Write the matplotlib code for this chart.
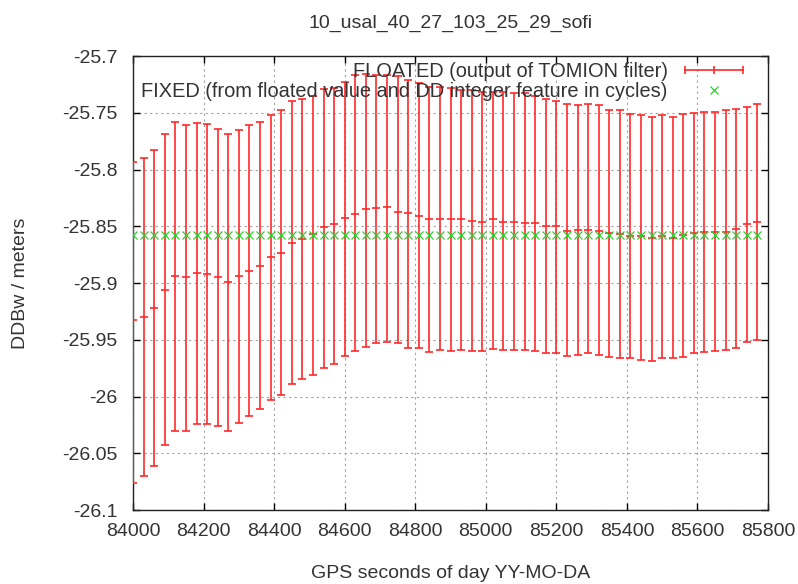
import matplotlib
matplotlib.use("Agg")
import matplotlib.pyplot as plt
from matplotlib.lines import Line2D
from matplotlib.legend_handler import HandlerBase

# GPS seconds (one sample every 30 s)
seconds = [84000 + 30 * i for i in range(60)]

# floated DDBw value and its error bar ends (meters)
floated = [-25.933, -25.930, -25.922, -25.906, -25.894, -25.895, -25.891, -25.892, -25.895, -25.899,
           -25.894, -25.889, -25.885, -25.877, -25.874, -25.865, -25.861, -25.857, -25.851, -25.848,
           -25.843, -25.839, -25.835, -25.834, -25.833, -25.837, -25.838, -25.841, -25.844, -25.844,
           -25.844, -25.844, -25.845, -25.846, -25.844, -25.846, -25.846, -25.847, -25.847, -25.850,
           -25.850, -25.854, -25.853, -25.853, -25.854, -25.856, -25.857, -25.859, -25.859, -25.860,
           -25.859, -25.860, -25.858, -25.856, -25.855, -25.855, -25.855, -25.852, -25.848, -25.846]
floated_hi = [-25.793, -25.790, -25.783, -25.769, -25.758, -25.761, -25.759, -25.760, -25.764, -25.769,
              -25.765, -25.761, -25.758, -25.752, -25.748, -25.740, -25.738, -25.735, -25.729, -25.728,
              -25.723, -25.717, -25.716, -25.717, -25.717, -25.718, -25.721, -25.724, -25.727, -25.727,
              -25.728, -25.730, -25.730, -25.732, -25.732, -25.732, -25.733, -25.733, -25.735, -25.738,
              -25.740, -25.742, -25.743, -25.742, -25.743, -25.748, -25.748, -25.751, -25.752, -25.754,
              -25.752, -25.754, -25.751, -25.750, -25.749, -25.749, -25.748, -25.747, -25.745, -25.742]
floated_lo = [-26.076, -26.070, -26.061, -26.043, -26.030, -26.030, -26.024, -26.024, -26.026, -26.030,
              -26.023, -26.017, -26.011, -26.003, -25.999, -25.989, -25.985, -25.981, -25.975, -25.971,
              -25.964, -25.960, -25.956, -25.953, -25.952, -25.953, -25.957, -25.957, -25.961, -25.959,
              -25.960, -25.959, -25.960, -25.960, -25.958, -25.959, -25.959, -25.959, -25.960, -25.962,
              -25.962, -25.964, -25.963, -25.962, -25.963, -25.965, -25.966, -25.966, -25.968, -25.969,
              -25.966, -25.966, -25.965, -25.962, -25.961, -25.960, -25.959, -25.957, -25.952, -25.950]

# fixed solution (constant)
fixed = [-25.8575] * len(seconds)

y_ticks = [-25.7, -25.75, -25.8, -25.85, -25.9, -25.95, -26.0, -26.05, -26.1]
y_labels = ["-25.7", "-25.75", "-25.8", "-25.85", "-25.9", "-25.95", "-26", "-26.05", "-26.1"]
x_ticks = list(range(84000, 85801, 200))

RED = "#ff2a2a"
GREEN = "#33cc33"
TEXT = "#333333"

plt.rcParams['font.family'] = ['Liberation Sans', 'DejaVu Sans']
plt.rcParams['font.size'] = 14
plt.rcParams['text.color'] = TEXT
plt.rcParams['axes.labelcolor'] = TEXT
plt.rcParams['xtick.labelcolor'] = TEXT
plt.rcParams['ytick.labelcolor'] = TEXT


class HandlerGnuErr(HandlerBase):
    '''gnuplot style error bar key sample: horizontal line with three ticks'''
    def create_artists(self, legend, orig_handle, xdescent, ydescent,
                       width, height, fontsize, trans):
        x0 = -xdescent
        x1 = x0 + width
        y = (height - ydescent) / 2
        line = Line2D([x0, x1], [y, y], color=RED, lw=1.2, transform=trans)
        ticks = Line2D([x0, (x0 + x1) / 2, x1], [y, y, y], ls='', marker='|',
                       ms=6, mew=1.2, color=RED, transform=trans)
        return [line, ticks]


fig = plt.figure(figsize=(7.98, 5.84), dpi=100)
ax = fig.add_axes([0.1667, 0.1267, 0.7957, 0.7774])

lo_err = [v - l for v, l in zip(floated, floated_lo)]
hi_err = [h - v for v, h in zip(floated, floated_hi)]
eb = ax.errorbar(seconds, floated, yerr=[lo_err, hi_err], fmt='_', ms=6, mew=1.2,
                 color=RED, ecolor=RED, elinewidth=1.2, capsize=3, capthick=1.2,
                 label="FLOATED (output of TOMION filter)", zorder=3)
fx, = ax.plot(seconds, fixed, ls='', marker='x', ms=5.5, mew=0.9, color=GREEN,
              label="FIXED (from floated value and DD integer feature in cycles)", zorder=4)

ax.set_xlim(84000, 85800)
ax.set_ylim(-26.1, -25.7)
ax.set_xticks(x_ticks)
ax.set_yticks(y_ticks)
ax.set_yticklabels(y_labels)
ax.tick_params(direction='in', length=5, width=1, top=True, right=True)
ax.tick_params(axis='x', pad=9)
ax.tick_params(axis='y', pad=11)
ax.grid(True, color='#a0a0a0', linestyle=(0, (2, 3)), linewidth=0.8)
for s in ax.spines.values():
    s.set_linewidth(1)
    s.set_color('#222222')

ax.set_title("10_usal_40_27_103_25_29_sofi", fontsize=14, pad=20)
ax.set_xlabel("GPS seconds of day YY-MO-DA", labelpad=18)
ax.set_ylabel("DDBw / meters", labelpad=24)

ax.legend([eb, fx], [eb.get_label(), fx.get_label()],
          handler_map={eb: HandlerGnuErr()},
          loc='upper right', bbox_to_anchor=(0.961, 0.987), frameon=False,
          markerfirst=False, borderpad=0, handlelength=2.9, handletextpad=0.88,
          labelspacing=0.05, borderaxespad=0, fontsize=14.4)

fig.savefig("out.png", dpi=100)
